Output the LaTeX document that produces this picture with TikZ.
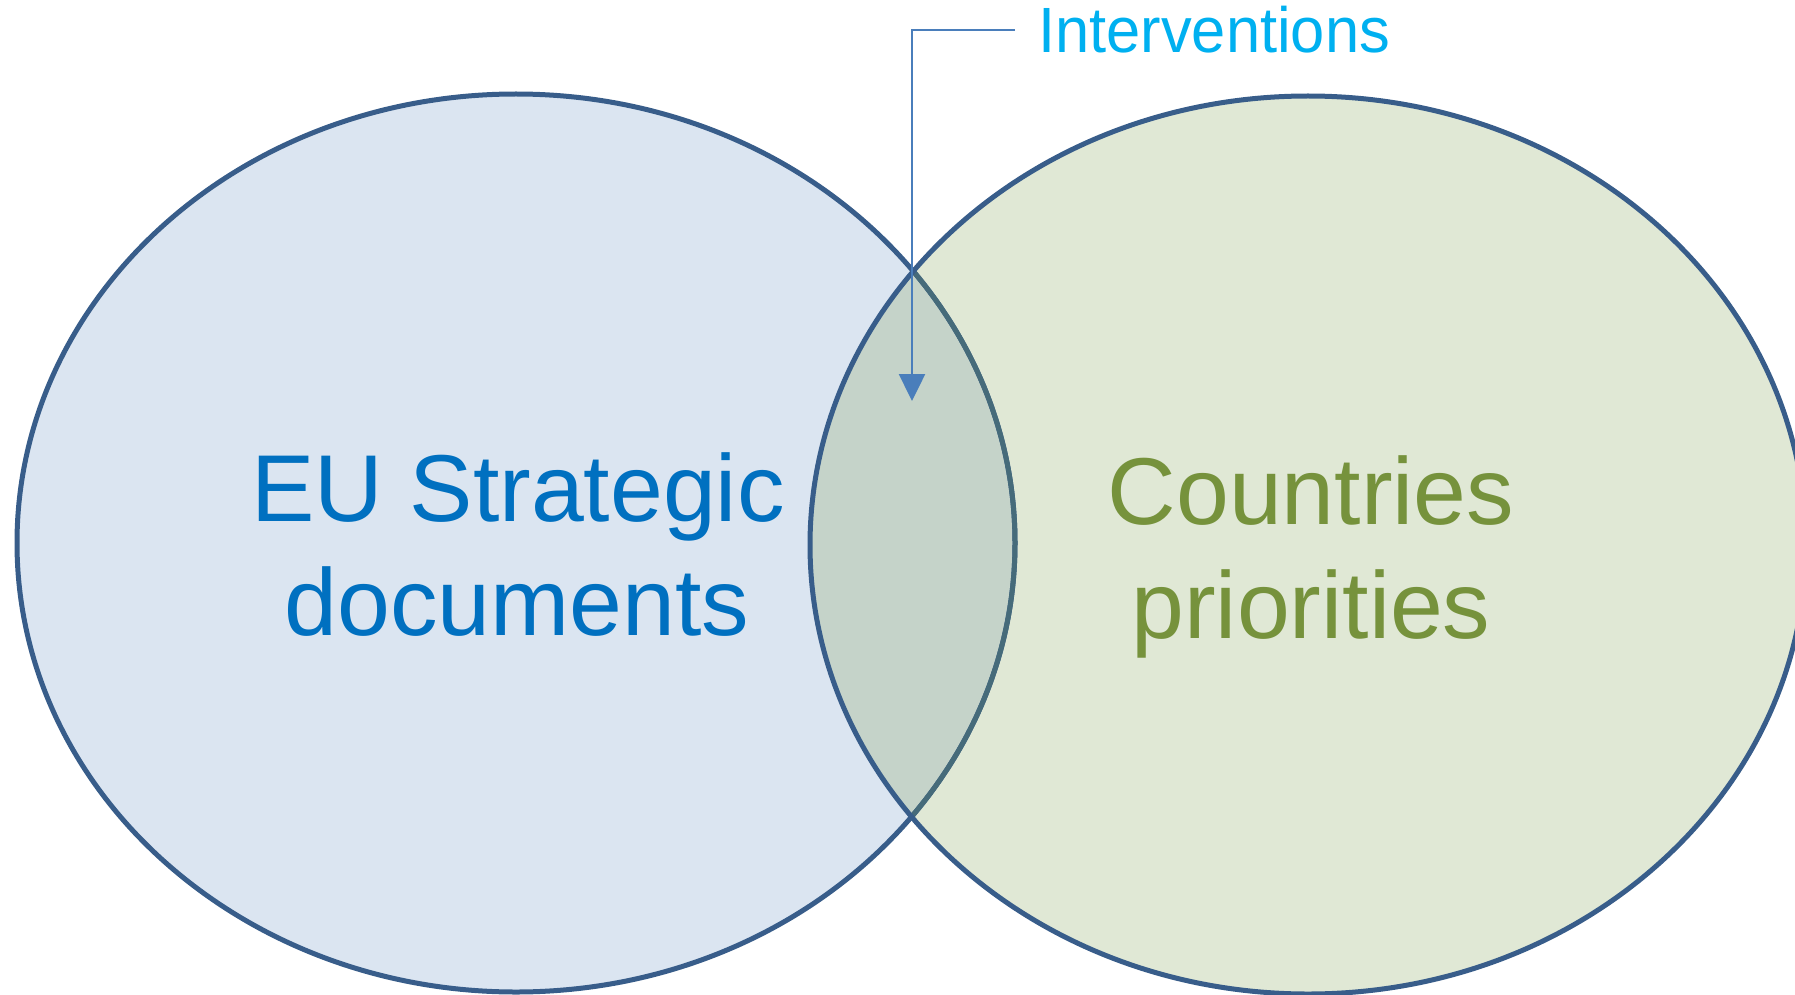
\documentclass[tikz,border=0pt]{standalone}
\usepackage{fontspec}
\setmainfont{Liberation Sans}
\usetikzlibrary{arrows.meta}
\definecolor{leftfill}{HTML}{DBE5F1}
\definecolor{rightfill}{HTML}{E0E8D5}
\definecolor{overlapfill}{HTML}{C5D3C9}
\definecolor{outlinec}{HTML}{385D8A}
\definecolor{tintedc}{HTML}{466B7A}
\definecolor{eublue}{HTML}{0070C0}
\definecolor{ctgreen}{HTML}{76923C}
\definecolor{intcyan}{HTML}{00B0F0}
\definecolor{connc}{HTML}{4A7EBB}
\tikzset{
  outline/.style={draw=outlinec, line width=5pt},
  bigtext/.style={inner sep=0pt, anchor=base, font=\fontsize{95}{114}\selectfont},
  conn/.style={draw=connc, line width=2.5pt, -{Triangle[width=26pt,length=27pt]}},
}
\begin{document}
\begin{tikzpicture}[x=1pt,y=-1pt]
\useasboundingbox (0,0) rectangle (1795,995);
\coordinate (L) at (516,543);
\coordinate (R) at (1308,545);
\def\lell{(L) ellipse [x radius=499pt, y radius=449pt]}
\def\rell{(R) ellipse [x radius=498pt, y radius=449pt]}
\fill[leftfill] \lell;
\fill[rightfill] \rell;
\begin{scope}
  \clip \lell;
  \fill[overlapfill] \rell;
\end{scope}
\draw[outline] \lell;
\begin{scope}
  \clip \rell;
  \draw[outline, draw=tintedc] \lell;
\end{scope}
\draw[outline] \rell;

\node[bigtext, text=eublue] (eu1) at (518,521) {EU Strategic};
\node[bigtext, text=eublue] (eu2) at (517,635) {documents};
\node[bigtext, text=ctgreen] (ct1) at (1311,524) {Countries};
\node[bigtext, text=ctgreen] (ct2) at (1311,638) {priorities};

\node[inner sep=0pt, anchor=base west, text=intcyan, font=\fontsize{64}{70}\selectfont, xscale=0.96] (intv) at (1038,53) {Interventions};
\coordinate (tip) at (912,401);
\draw[conn] ([xshift=-23pt]intv.west) -| (tip);
\end{tikzpicture}
\end{document}
